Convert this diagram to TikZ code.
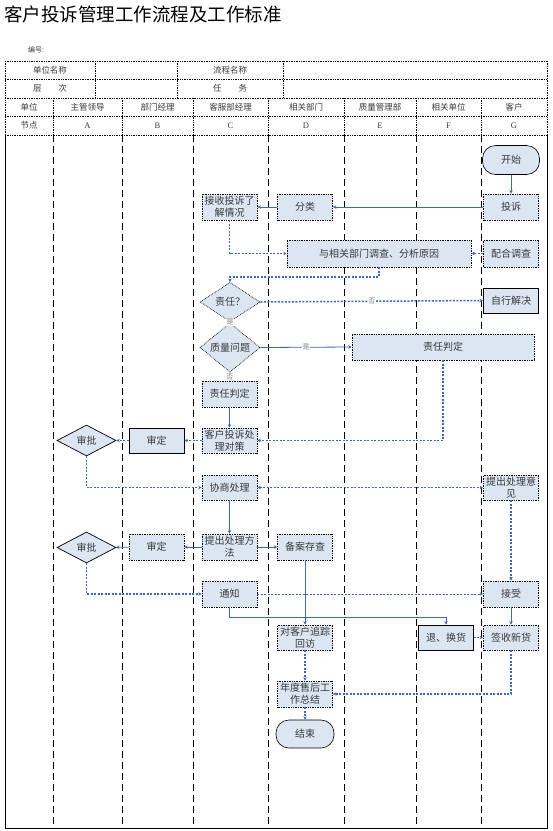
\documentclass[tikz,border=0pt]{standalone}
\usepackage{fontspec}
\setmainfont{Liberation Serif}
\newfontfamily\cjk{Noto Sans CJK SC}
\usetikzlibrary{shapes.geometric,arrows.meta}
\definecolor{boxfill}{HTML}{DCE6F2}
\definecolor{conn}{HTML}{3A68C0}
\definecolor{txt}{HTML}{3A3A3A}
\tikzset{
  boxnode/.style={draw=black, densely dotted, line width=0.7pt, fill=boxfill, minimum width=55pt, minimum height=26pt, inner sep=0.5pt, align=center, text=txt, font=\cjk\fontsize{10}{12}\selectfont},
  dia/.style={diamond, draw=black, densely dotted, line width=0.7pt, fill=boxfill, minimum width=60pt, minimum height=31pt, inner sep=0pt, text=txt, font=\cjk\fontsize{10}{12}\selectfont},
  termnode/.style={boxnode, solid, line width=0.6pt, rounded corners=13pt, minimum width=57pt, minimum height=29pt},
  hdr/.style={font=\cjk\fontsize{8.5}{10}\selectfont, text=txt, inner sep=0pt},
  lbl/.style={font=\cjk\fontsize{7}{8}\selectfont, text=gray, fill=white, inner sep=0.5pt},
  sline/.style={draw=conn, line width=0.8pt, -{Stealth[length=3.5pt,width=3.5pt]}},
  dline/.style={sline, line width=1.2pt, dash pattern=on 2pt off 1.5pt},
  lane/.style={draw=black, line width=0.7pt, dash pattern=on 7pt off 4pt},
  tline/.style={draw=black, line width=0.7pt, densely dotted}
}
\begin{document}
\begin{tikzpicture}[x=1pt,y=-1pt]
\fill[white] (0,0) rectangle (553,831);
\path[use as bounding box] (0,0) rectangle (553,831);

% title
\node[anchor=west, font=\cjk\fontsize{18.5}{20}\selectfont, inner sep=0pt] (title) at (4,14) {客户投诉管理工作流程及工作标准};
\node[anchor=west, font=\cjk\fontsize{7}{8}\selectfont, text=txt, inner sep=0pt] (code) at (28,50) {编号:};

% header table
\draw[tline] (5,61) -- (547,61);
\draw[tline] (5,79) -- (547,79);
\draw[tline] (5,98) -- (547,98);
\draw[tline] (5,116) -- (547,116);
\draw[tline] (5,135) -- (547,135);
\foreach \x in {95,177,283} \draw[tline] (\x,61) -- (\x,98);
\foreach \x in {53,122,193,268,344,416,481} \draw[tline] (\x,98) -- (\x,135);
\draw[tline] (5,61) -- (5,135);
\draw[tline] (547,61) -- (547,135);

\node[hdr] (h1) at (50,70) {单位名称};
\node[hdr] (h2) at (230,70) {流程名称};
\node[hdr] (h3) at (50,88.5) {层\quad\quad 次};
\node[hdr] (h4) at (230,88.5) {任\quad\quad 务};
\node[hdr] (c0) at (29,107) {单位};
\node[hdr] (c1) at (87.5,107) {主管领导};
\node[hdr] (c2) at (157.5,107) {部门经理};
\node[hdr] (c3) at (230.5,107) {客服部经理};
\node[hdr] (c4) at (306,107) {相关部门};
\node[hdr] (c5) at (380,107) {质量管理部};
\node[hdr] (c6) at (448.5,107) {相关单位};
\node[hdr] (c7) at (514,107) {客户};
\node[hdr] (n0) at (29,125.5) {节点};
\node[hdr, font=\fontsize{8.5}{10}\selectfont] (nA) at (87.5,125.5) {A};
\node[hdr, font=\fontsize{8.5}{10}\selectfont] (nB) at (157.5,125.5) {B};
\node[hdr, font=\fontsize{8.5}{10}\selectfont] (nC) at (230.5,125.5) {C};
\node[hdr, font=\fontsize{8.5}{10}\selectfont] (nD) at (306,125.5) {D};
\node[hdr, font=\fontsize{8.5}{10}\selectfont] (nE) at (380,125.5) {E};
\node[hdr, font=\fontsize{8.5}{10}\selectfont] (nF) at (448.5,125.5) {F};
\node[hdr, font=\fontsize{8.5}{10}\selectfont] (nG) at (514,125.5) {G};

% body frame and lanes
\draw[black, line width=0.8pt] (5,135) -- (5,828) -- (547,828) -- (547,135);
\foreach \x in {53,122,193,268,344,416,481} \draw[lane] (\x,135) -- (\x,828);

% nodes
\node[termnode] (start) at (511,160) {开始};
\node[boxnode] (complain) at (511,207) {投诉};
\node[boxnode] (classify) at (305,207) {分类};
\node[boxnode] (receive) at (229.5,207) {接收投诉了\\解情况};
\node[boxnode, minimum width=184pt, minimum height=27pt] (investigate) at (379,253.5) {与相关部门调查、分析原因};
\node[boxnode, minimum height=27pt] (cooperate) at (511,253.5) {配合调查};
\node[dia] (resp) at (230,302) {责任？};
\node[boxnode, solid, minimum height=25pt] (selfsolve) at (511,300.5) {自行解决};
\node[dia] (quality) at (230,347.5) {质量问题};
\node[boxnode, minimum width=182pt] (judgebig) at (443,347) {责任判定};
\node[boxnode] (judgesmall) at (229.5,394) {责任判定};
\node[boxnode, minimum height=25pt] (measure) at (229.5,440.5) {客户投诉处\\理对策};
\node[boxnode, solid, minimum height=25pt] (reviewb1) at (156.5,440.5) {审定};
\node[dia, solid, minimum width=59pt] (approvea1) at (86.5,440.5) {审批};
\node[boxnode, minimum height=25pt] (negotiate) at (229.5,487.5) {协商处理};
\node[boxnode, minimum height=25pt] (opinion) at (511,487.5) {提出处理意\\见};
\node[boxnode] (method) at (229.5,547) {提出处理方\\法};
\node[boxnode] (reviewb2) at (156.5,547) {审定};
\node[dia, solid, minimum width=59pt] (approvea2) at (86.5,547.5) {审批};
\node[boxnode] (archive) at (305,547) {备案存查};
\node[boxnode] (notify) at (229.5,594) {通知};
\node[boxnode] (accept) at (511,594) {接受};
\node[boxnode, minimum height=25pt] (visit) at (305,637.5) {对客户追踪\\回访};
\node[boxnode, solid, minimum height=25pt] (exchange) at (446,637.5) {退、换货};
\node[boxnode, minimum height=25pt] (sign) at (511,637.5) {签收新货};
\node[boxnode] (summary) at (305,694) {年度售后工\\作总结};
\node[termnode, minimum width=58pt, minimum height=28pt] (finish) at (305,734) {结束};

\coordinate (k1) at (379,277);
\coordinate (k2) at (229.5,617);

% connectors
\draw[sline] (start) -- (complain);
\draw[sline] (complain) -- (classify);
\draw[sline] (classify) -- (receive);
\draw[dline] (receive.south) |- (investigate.west);
\draw[dline] (cooperate) -- (investigate);
\draw[dline] (investigate.south) -- (k1) -| (resp.north);
\draw[dline, line width=1.5pt] (resp.east) -- node[lbl] {否} (selfsolve.west);
\draw[sline] (resp.south) -- node[lbl] {是} (quality.north);
\draw[sline] (quality.east) -- node[lbl] {是} (judgebig.west);
\draw[sline] (quality.south) -- node[lbl] {否} (judgesmall.north);
\draw[dline] (judgebig.south) |- (measure.east);
\draw[sline] (judgesmall) -- (measure);
\draw[dline] (measure) -- (reviewb1);
\draw[dline] (reviewb1) -- (approvea1);
\draw[dline] (approvea1.south) |- (negotiate.west);
\draw[dline, {Stealth[length=3.5pt,width=3.5pt]}-{Stealth[length=3.5pt,width=3.5pt]}] (negotiate) -- (opinion);
\draw[sline] (negotiate) -- (method);
\draw[sline] (method) -- (reviewb2);
\draw[sline] (reviewb2) -- (approvea2);
\draw[sline] (method) -- (archive);
\draw[dline] (approvea2.south) |- (notify.west);
\draw[dline, line width=0.9pt] (notify) -- (accept);
\draw[dline] (opinion) -- (accept);
\draw[sline] (archive) -- (visit);
\draw[sline] (notify.south) -- (k2) -| (exchange.north);
\draw[sline] (accept) -- (sign);
\draw[dline] (exchange) -- (sign);
\draw[dline] (sign.south) |- (summary.east);
\draw[dline] (visit) -- (summary);
\draw[dline] (summary) -- (finish);
\end{tikzpicture}
\end{document}
